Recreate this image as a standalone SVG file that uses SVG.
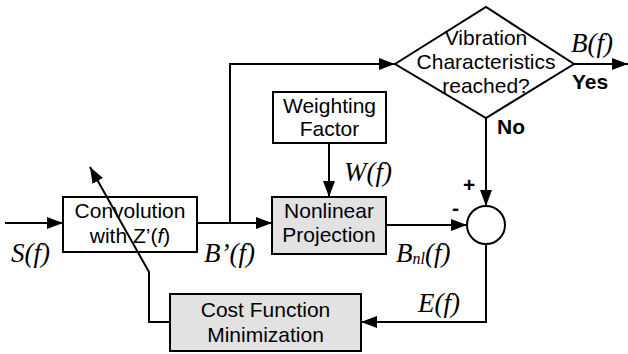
<svg xmlns="http://www.w3.org/2000/svg" width="628" height="354" viewBox="0 0 628 354">
  <defs>
    <marker id="arrow" viewBox="0 0 16 12" refX="16" refY="6" markerWidth="16" markerHeight="12" markerUnits="userSpaceOnUse" orient="auto">
      <path d="M0,0 L16,6 L0,12 Z" fill="#000"/>
    </marker>
  </defs>
  <style>
    .box { fill: #fff; stroke: #000; stroke-width: 2; }
    .grey { fill: #e2e2e2; stroke: #000; stroke-width: 2; }
    .wire { fill: none; stroke: #000; stroke-width: 2; }
    .t { font-family: "Liberation Sans", Arial, sans-serif; font-size: 21px; fill: #000; text-anchor: middle; }
    .b { font-family: "Liberation Sans", Arial, sans-serif; font-size: 21px; font-weight: bold; fill: #000; }
    .m { font-family: "Liberation Serif", "Times New Roman", serif; font-size: 27px; font-style: italic; fill: #000; }
  </style>
  <rect width="628" height="354" fill="#fff"/>

  <g id="convolution">
    <rect class="box" x="63" y="197" width="134" height="55"/>
    <text class="t" x="130" y="218">Convolution</text>
    <text class="t" x="130" y="243">with Z’(<tspan font-style="italic">f</tspan>)</text>
  </g>

  <g id="weighting">
    <rect class="box" x="273" y="92" width="113" height="51"/>
    <text class="t" x="329.500" y="113">Weighting</text>
    <text class="t" x="329.500" y="136">Factor</text>
  </g>

  <g id="projection">
    <rect class="grey" x="272" y="197" width="114" height="57"/>
    <text class="t" x="329" y="218">Nonlinear</text>
    <text class="t" x="329" y="242">Projection</text>
  </g>

  <g id="decision">
    <polygon class="box" points="395,64 486,7 574,64 486,118"/>
    <text class="t" x="486" y="45">Vibration</text>
    <text class="t" x="486" y="69">Characteristics</text>
    <text class="t" x="486" y="93">reached?</text>
  </g>

  <g id="sum">
    <circle class="box" cx="486" cy="225" r="19"/>
  </g>

  <g id="cost">
    <rect class="grey" x="170" y="294" width="191" height="57"/>
    <text class="t" x="265.500" y="317">Cost Function</text>
    <text class="t" x="265.500" y="342">Minimization</text>
  </g>

  <!-- wires are drawn last so the adaptation arrow crosses over the convolution block -->
  <g id="connectors">
    <path class="wire" d="M5,223 H63" marker-end="url(#arrow)"/>
    <path class="wire" d="M197,223 H272" marker-end="url(#arrow)"/>
    <path class="wire" d="M230,223 V64 H395" marker-end="url(#arrow)"/>
    <path class="wire" d="M574,64 H628" marker-end="url(#arrow)"/>
    <path class="wire" d="M329,143 V197" marker-end="url(#arrow)"/>
    <path class="wire" d="M386,225 H467" marker-end="url(#arrow)"/>
    <path class="wire" d="M486,118 V206" marker-end="url(#arrow)"/>
    <path class="wire" d="M486,244 V322 H361" marker-end="url(#arrow)"/>
    <path class="wire" d="M170,322 H149 V272 L90,167" marker-end="url(#arrow)"/>
  </g>

  <g id="labels">
    <text class="m" x="11" y="262">S(f)</text>
    <text class="m" x="204" y="262">B’(f)</text>
    <text class="m" x="344" y="181">W(f)</text>
    <text class="m" x="396" y="262">B<tspan font-size="16" dy="2">nl</tspan><tspan dy="-2">(f)</tspan></text>
    <text class="m" x="418" y="312">E(f)</text>
    <text class="m" x="571" y="52">B(f)</text>
    <text class="b" x="572" y="89">Yes</text>
    <text class="b" x="497" y="134">No</text>
    <text class="b" x="463" y="192">+</text>
    <text class="b" x="452" y="215">-</text>
  </g>
</svg>
